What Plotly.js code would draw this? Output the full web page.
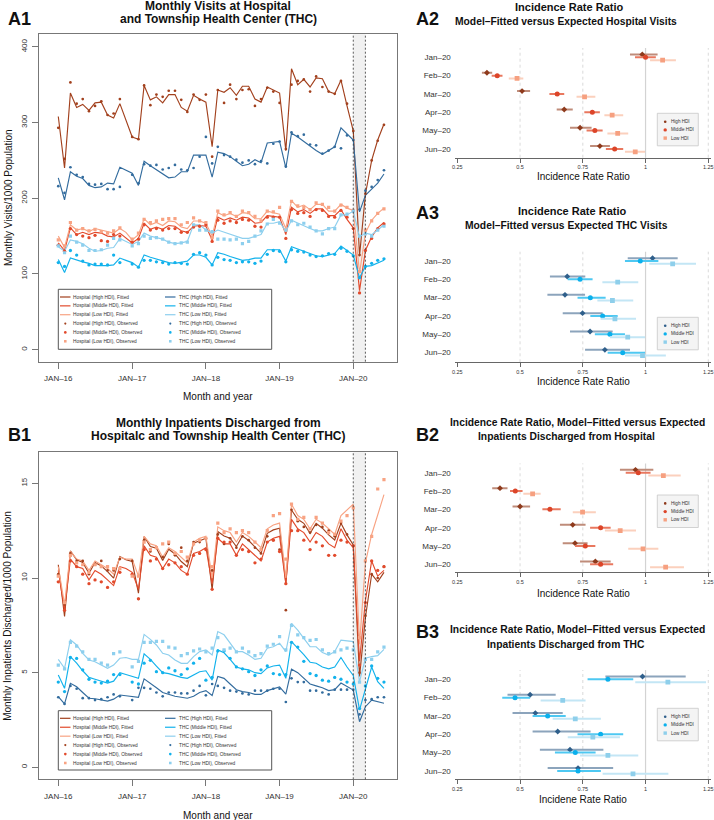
<!DOCTYPE html>
<html><head><meta charset="utf-8">
<script src="https://cdn.plot.ly/plotly-3.0.1.min.js"></script>
<style>html,body{margin:0;padding:0;background:#fff}#chart{width:714px;height:820px}</style>
</head><body><div id="chart"></div>
<script>
// ---------- categories ----------
const months = [];
for (let y = 2016; y <= 2020; y++) for (let m = 1; m <= 12; m++) if (y < 2020 || m <= 6) months.push(y + '-' + String(m).padStart(2, '0') + '-01');
const yearTickDates = ['2016-01-01','2017-01-01','2018-01-01','2019-01-01','2020-01-01'];
const yearTickLabels = ['JAN–16','JAN–17','JAN–18','JAN–19','JAN–20'];
const irrMonths = ['Jan–20','Feb–20','Mar–20','Apr–20','May–20','Jun–20'];

// ---------- A1: monthly visits per 1000 ----------
const hospHighFitA1 = [308,240,339,320,324,316,326,327,310,306,325,303,
 281,278,349,330,334,326,337,337,320,315,336,331,
 327,268,343,340,346,336,348,348,331,327,347,343,
 339,263,371,350,357,347,359,358,341,338,356,322,
 289,124,205,250,277,298];
const hospHighObsA1 = [293,252,353,325,331,315,322,328,310,312,331,null,
 281,278,349,323,337,334,342,342,330,314,337,330,
 337,255,343,326,350,331,343,344,322,331,346,341,
 326,265,350,355,357,341,361,347,341,338,355,325,
 289,125,206,250,276,297];
const hospMidFitA1 = [141,131,161,152,155,152,155,154,150,149,154,148,
 141,147,167,159,162,159,164,163,157,155,163,164,
 163,145,175,171,174,171,175,174,167,168,177,176,
 175,152,188,182,185,180,186,186,177,177,185,172,
 161,78,131,149,161,168];
const hospMidObsA1 = [138,130,160,152,150,148,151,144,143,152,150,null,
 142,146,165,158,160,158,160,160,155,155,162,163,
 165,143,171,167,170,168,172,171,163,162,175,175,
 175,147,185,180,181,176,185,184,176,175,184,175,
 160,75,131,147,160,166];
const hospLowFitA1 = [150,135,165,158,160,156,160,158,155,154,160,155,
 145,152,173,165,168,164,170,169,162,160,170,170,
 167,150,181,177,180,176,181,180,173,173,183,181,
 179,160,197,188,191,185,192,192,183,183,192,187,
 184,101,154,171,180,187];
const hospLowObsA1 = [145,137,168,158,160,157,159,156,154,157,161,null,
 146,154,172,168,170,172,173,173,165,168,174,170,
 168,148,183,178,181,176,183,181,176,170,183,182,
 188,158,196,190,188,185,194,192,188,183,191,188,
 184,103,158,170,180,186];
const thcHighFitA1 = [227,198,235,229,226,217,214,215,220,219,241,237,
 233,217,249,243,238,233,227,228,235,235,257,257,
 257,228,261,259,255,249,243,245,251,247,273,274,
 275,240,286,281,275,268,263,258,263,268,293,285,
 277,182,204,212,220,232];
const thcHighObsA1 = [216,207,241,231,228,219,218,219,212,212,215,null,
 231,220,245,243,244,238,240,244,238,237,240,255,
 281,246,268,257,255,251,247,250,245,249,246,272,
 275,242,287,282,284,271,270,259,263,268,266,283,
 277,185,210,215,224,237];
const thcMidFitA1 = [119,102,121,118,116,114,111,111,111,112,121,118,
 115,109,125,122,120,117,115,114,116,117,125,125,
 122,112,128,126,123,120,118,119,121,121,132,132,
 132,117,136,133,130,126,124,123,125,127,137,131,
 125,95,110,111,114,118];
const thcMidObsA1 = [115,110,131,125,117,112,113,113,112,125,115,null,
 113,109,118,118,116,115,113,115,114,113,126,128,
 125,112,122,119,118,115,116,116,114,117,126,131,
 130,116,132,130,129,125,123,124,127,126,134,130,
 124,95,110,114,118,120];
const thcLowFitA1 = [136,130,145,143,140,134,130,131,134,135,147,143,
 139,143,154,150,148,146,142,140,141,143,165,165,
 158,154,158,155,152,150,147,147,150,152,167,167,
 169,156,171,167,164,160,157,157,160,162,178,178,
 183,149,154,152,158,165];
const thcLowObsA1 = [137,128,150,142,138,131,131,132,138,147,145,null,
 137,140,150,147,148,146,142,140,141,142,165,158,
 158,156,146,146,145,146,140,143,150,157,166,172,
 167,158,170,165,167,162,157,153,160,160,178,179,
 183,150,153,150,158,163];

// ---------- B1: inpatients discharged per 1000 ----------
const hospHighFitB1 = [10.70,7.97,11.43,10.96,10.82,10.25,10.82,10.64,10.34,9.99,11.13,10.96,
 10.87,9.20,12.19,11.66,11.57,10.92,11.52,11.27,10.87,10.60,11.84,11.98,
 12.10,9.38,12.45,12.22,12.10,11.66,12.22,11.98,11.66,11.31,12.36,12.54,
 12.63,9.73,13.59,13.10,12.89,12.36,12.89,12.63,12.28,12.01,12.89,12.28,
 11.75,4.80,7.90,10.20,9.80,10.30];
const hospHighObsB1 = [10.20,8.60,11.30,10.90,10.90,10.20,10.70,10.90,10.40,10.40,11.00,null,
 10.90,8.90,12.00,11.40,11.60,11.10,11.80,11.20,11.60,10.90,11.90,11.90,
 12.10,10.40,12.30,11.80,12.10,11.60,12.20,12.00,11.60,11.30,12.20,12.00,
 11.50,8.30,13.60,13.00,12.70,12.40,12.80,12.70,12.50,12.20,12.90,12.30,
 11.70,5.00,8.00,10.20,10.00,10.60];
const hospMidFitB1 = [10.40,8.30,11.00,10.60,10.50,9.90,10.40,10.20,9.90,9.60,10.60,10.50,
 10.30,9.40,11.70,11.20,11.10,10.50,11.00,10.80,10.40,10.20,11.30,11.40,
 11.60,9.70,12.10,11.80,11.80,11.20,11.80,11.50,11.20,10.90,11.90,12.10,
 12.20,9.70,13.10,12.60,12.40,11.90,12.40,12.20,11.80,11.60,12.60,12.00,
 11.60,5.60,8.80,10.90,10.10,10.40];
const hospMidObsB1 = [9.80,8.30,10.90,10.60,10.20,9.70,9.90,9.80,9.50,9.80,10.30,null,
 10.20,8.90,11.50,10.90,11.00,10.50,10.70,10.80,10.60,10.20,11.20,11.30,
 11.50,9.40,12.10,11.90,11.90,11.20,11.50,11.40,10.80,11.00,11.90,12.00,
 11.40,9.70,12.50,12.50,12.00,11.50,11.90,11.70,11.20,11.20,12.00,11.90,
 11.70,5.40,8.70,10.90,10.40,10.60];
const hospLowFitB1 = [10.60,8.60,11.40,11.00,10.90,10.40,10.90,10.70,10.50,10.20,11.10,11.00,
 11.00,10.10,12.20,11.80,11.70,11.10,11.60,11.40,11.10,10.80,11.90,12.10,
 12.20,10.00,12.70,12.50,12.40,11.90,12.40,12.20,11.90,11.60,12.60,12.80,
 12.90,10.00,13.90,13.30,13.10,12.60,13.10,12.90,12.60,12.30,13.30,13.60,
 13.90,6.50,10.80,12.30,13.40,14.40];
const hospLowObsB1 = [10.10,8.70,11.20,10.80,10.70,10.30,10.70,10.60,10.60,10.50,10.50,null,
 10.10,10.10,11.90,11.50,11.60,11.80,11.90,11.30,11.40,11.10,11.80,12.00,
 12.10,10.60,12.90,12.40,12.60,12.40,12.50,12.40,11.90,11.50,12.50,13.30,
 13.40,11.00,13.90,13.10,13.20,12.60,13.20,12.90,12.40,12.30,13.00,13.30,
 13.70,6.85,10.90,12.20,14.70,15.20];
const thcHighFitB1 = [3.73,3.35,4.44,4.25,3.95,3.65,3.62,3.55,3.50,3.60,3.82,3.78,
 3.75,3.70,4.67,4.45,4.20,3.95,3.85,3.75,3.70,3.65,3.75,3.95,
 4.05,3.79,4.80,4.70,4.40,4.10,4.00,3.95,3.85,3.85,4.05,4.15,
 4.25,3.86,5.18,5.00,4.70,4.40,4.30,4.20,4.05,4.10,4.45,4.25,
 4.08,2.41,3.20,3.55,3.45,3.38];
const thcHighObsB1 = [3.70,3.35,4.30,4.15,3.65,3.65,3.55,3.60,3.70,3.85,3.75,null,
 3.55,4.20,4.20,4.15,3.95,3.75,3.95,3.95,3.90,3.90,4.05,4.30,
 3.80,4.40,4.30,4.20,4.05,4.00,3.90,3.85,4.05,4.05,4.05,4.15,
 4.15,3.45,4.70,4.50,4.50,4.05,4.05,3.95,3.85,4.10,4.10,4.10,
 4.10,2.80,3.55,3.60,3.70,3.70];
const thcMidFitB1 = [4.88,4.17,5.85,5.50,5.10,4.75,4.65,4.55,4.45,4.55,5.00,4.90,
 4.80,4.70,5.99,5.70,5.35,5.00,4.95,4.85,4.75,4.70,4.90,5.05,
 5.10,4.60,6.20,6.05,5.70,5.30,5.20,5.15,5.00,4.95,5.25,5.35,
 5.40,4.70,6.64,6.30,5.95,5.55,5.50,5.30,5.20,5.30,5.80,5.30,
 4.85,3.03,4.17,5.30,4.52,4.17];
const thcMidObsB1 = [4.50,4.00,5.80,5.75,5.15,4.65,4.50,4.45,4.55,4.90,4.90,null,
 4.50,4.40,5.50,5.65,5.05,5.00,5.25,5.10,4.90,5.20,5.50,5.75,
 4.60,4.75,6.15,6.15,5.75,5.30,5.20,5.05,4.85,5.15,5.35,4.95,
 4.90,4.90,6.60,6.35,5.60,4.95,4.85,4.60,4.55,4.75,4.65,4.50,
 4.40,3.10,4.30,5.35,4.70,4.50];
const thcLowFitB1 = [5.70,5.23,6.73,6.46,6.02,5.67,5.58,5.40,5.23,5.40,5.76,5.80,
 5.70,5.70,7.02,6.76,6.46,6.02,5.93,5.67,5.49,5.49,5.85,6.11,
 6.20,5.93,7.17,7.00,6.55,6.11,6.11,5.93,5.70,5.76,6.29,6.37,
 6.55,6.11,7.60,7.25,6.81,6.37,6.37,6.06,5.93,6.11,6.72,6.68,
 6.64,4.52,5.76,5.85,5.90,6.23];
const thcLowObsB1 = [5.40,5.20,6.60,6.40,6.10,5.70,5.70,5.50,5.40,6.00,6.10,null,
 5.30,5.60,6.60,6.60,6.65,6.65,6.35,6.30,5.90,6.00,6.15,6.25,
 6.10,6.30,6.85,6.20,6.30,6.10,6.30,6.10,5.90,6.00,6.40,6.50,
 6.90,6.20,7.50,7.00,6.85,6.70,6.75,6.20,6.00,6.10,6.20,6.30,
 6.20,4.50,5.70,5.70,6.10,6.35];

// ---------- Incidence rate ratios (estimate, lower, upper) ----------
const a2HighEst=[0.987,0.368,0.508,0.676,0.739,0.818], a2HighLo=[0.938,0.348,0.488,0.646,0.699,0.779], a2HighHi=[1.048,0.389,0.540,0.710,0.785,0.858];
const a2MidEst=[1.000,0.409,0.648,0.788,0.798,0.877],  a2MidLo=[0.958,0.387,0.617,0.756,0.765,0.842],  a2MidHi=[1.041,0.430,0.676,0.818,0.829,0.911];
const a2LowEst=[1.068,0.488,0.757,0.867,0.889,0.959],  a2LowLo=[1.018,0.455,0.725,0.836,0.848,0.918],  a2LowHi=[1.121,0.513,0.800,0.911,0.931,0.998];

const a3HighEst=[1.028,0.688,0.679,0.749,0.779,0.838], a3HighLo=[0.929,0.619,0.609,0.670,0.699,0.759], a3HighHi=[1.128,0.760,0.759,0.829,0.869,0.938];
const a3MidEst=[0.979,0.739,0.780,0.829,0.858,0.909],  a3MidLo=[0.918,0.690,0.729,0.780,0.798,0.849],  a3MidHi=[1.051,0.789,0.841,0.889,0.918,0.998];
const a3LowEst=[1.108,0.889,0.868,0.878,0.929,0.988],  a3LowLo=[1.015,0.828,0.808,0.821,0.858,0.918],  a3LowHi=[1.201,0.971,0.951,0.962,0.998,1.081];

const b2HighEst=[0.960,0.420,0.500,0.710,0.719,0.800], b2HighLo=[0.898,0.389,0.470,0.659,0.670,0.739], b2HighHi=[1.031,0.450,0.540,0.761,0.769,0.861];
const b2MidEst=[0.971,0.481,0.619,0.821,0.760,0.821],  b2MidLo=[0.921,0.460,0.589,0.779,0.719,0.779],  b2MidHi=[1.020,0.510,0.662,0.861,0.800,0.871];
const b2LowEst=[1.071,0.550,0.749,0.899,0.990,1.080],  b2LowLo=[1.011,0.513,0.710,0.838,0.931,1.018],  b2LowHi=[1.140,0.582,0.802,0.962,1.051,1.153];

const b3HighEst=[0.988,0.540,0.561,0.650,0.699,0.731], b3HighLo=[0.840,0.450,0.470,0.550,0.579,0.610], b3HighHi=[1.160,0.642,0.670,0.781,0.832,0.871];
const b3MidEst=[0.850,0.480,0.610,0.821,0.720,0.731],  b3MidLo=[0.769,0.429,0.550,0.729,0.639,0.648],  b3MidHi=[0.951,0.540,0.682,0.911,0.801,0.822];
const b3LowEst=[1.089,0.670,0.720,0.790,0.850,0.950],  b3LowLo=[0.959,0.582,0.630,0.690,0.739,0.829],  b3LowHi=[1.241,0.761,0.822,0.898,0.971,1.091];

const irrTicks = [0.25,0.5,0.75,1,1.25];
const irrTickText = ['0.25','0.5','0.75','1','1.25'];
const hdiNames = ['High HDI','Middle HDI','Low HDI'];

// ---------- styling / layout helpers ----------
const W = 714, H = 820;
const px = x => x / W, py = y => 1 - y / H;
const FONT = 'Liberation Sans, Arial, Helvetica, sans-serif';
const COL = {
  hospHigh:'#A2401D', hospMid:'#E24A2C', hospLow:'#F8A383',
  thcHigh:'#336C9E', thcMid:'#12B2EC', thcLow:'#8DCFEE'
};
const IRRCOL = {
  hosp: [{pt:'#8E3A1C', ci:'#BF8C7A'}, {pt:'#DC4529', ci:'#E9785F'}, {pt:'#F6A080', ci:'#FBD0BD'}],
  thc:  [{pt:'#2F5F8B', ci:'#8CA4BC'}, {pt:'#0BB0EC', ci:'#4EC8F2'}, {pt:'#8ECFEB', ci:'#C3E6F5'}]
};
const SYM = [{s:'diamond',z:4.5},{s:'circle',z:5},{s:'square',z:4.8}];

const traces = [], shapes = [], annotations = [];

function ann(text, x, y, size, opt) {
  return Object.assign({text, x:px(x), y:py(y), xref:'paper', yref:'paper', showarrow:false,
    xanchor:'center', yanchor:'middle', font:{family:FONT, size, color:'#111'}}, opt || {});
}

// ---------- time series panels ----------
function tsPanel(xa, ya, series) {
  series.forEach(s => traces.push({type:'scatter', mode:'lines', x:months, y:s.fit, xaxis:xa, yaxis:ya,
    line:{color:s.color, width:1.15}, connectgaps:true, hoverinfo:'skip', showlegend:false, name:s.name + ', Fitted'}));
  series.forEach(s => traces.push({type:'scatter', mode:'markers', x:months, y:s.obs, xaxis:xa, yaxis:ya,
    marker:{color:s.color, symbol:s.sym, size:s.size, line:{width:0}}, showlegend:false, name:s.name + ', Observed'}));
  const yd = ya + ' domain';
  shapes.push({type:'rect', xref:xa, yref:yd, x0:'2020-01-01', x1:'2020-03-01', y0:0, y1:1,
    fillcolor:'#F1F1F1', line:{width:0}, layer:'below'});
  ['2020-01-01','2020-03-01'].forEach(d => shapes.push({type:'line', xref:xa, yref:yd, x0:d, x1:d, y0:0, y1:1,
    line:{color:'#333', width:0.8, dash:'2px,2px'}}));
}

function bigLegend(series, yFirst, step, box) {
  shapes.push({type:'rect', xref:'paper', yref:'paper', x0:px(box[0]), x1:px(box[2]), y0:py(box[3]), y1:py(box[1]),
    line:{color:'#555', width:1}, fillcolor:'#FFFFFF'});
  const cols = [{l0:60, l1:70.5, m:65.3, t:71.2}, {l0:165, l1:175.5, m:170.3, t:177.2}];
  series.forEach((s, i) => {
    const c = cols[i < 3 ? 0 : 1], r = i % 3;
    const yf = yFirst + step * r, yo = yFirst + step * (r + 3);
    shapes.push({type:'line', xref:'paper', yref:'paper', x0:px(c.l0), x1:px(c.l1), y0:py(yf), y1:py(yf),
      line:{color:s.color, width:1.2}});
    const rr = s.size / 2 * 0.8;
    shapes.push({type: s.sym === 'square' ? 'rect' : 'circle', xref:'paper', yref:'paper',
      x0:px(c.m - rr), x1:px(c.m + rr), y0:py(yo + rr), y1:py(yo - rr), fillcolor:s.color, line:{width:0}});
    annotations.push(ann(s.name + ', Fitted', c.t, yf, 4.8, {xanchor:'left', font:{family:FONT, size:4.8, color:'#333'}}));
    annotations.push(ann(s.name + ', Observed', c.t, yo, 4.8, {xanchor:'left', font:{family:FONT, size:4.8, color:'#333'}}));
  });
}

function mkSeries(f) {
  return [
    {name:'Hospital (High HDI)', fit:f[0], obs:f[1], color:COL.hospHigh, sym:'circle', size:2.7},
    {name:'Hospital (Middle HDI)', fit:f[2], obs:f[3], color:COL.hospMid, sym:'circle', size:3.3},
    {name:'Hospital (Low HDI)', fit:f[4], obs:f[5], color:COL.hospLow, sym:'square', size:3.2},
    {name:'THC (High HDI)', fit:f[6], obs:f[7], color:COL.thcHigh, sym:'circle', size:2.7},
    {name:'THC (Middle HDI)', fit:f[8], obs:f[9], color:COL.thcMid, sym:'circle', size:3.3},
    {name:'THC (Low HDI)', fit:f[10], obs:f[11], color:COL.thcLow, sym:'square', size:3.2}
  ];
}
const seriesA1 = mkSeries([hospHighFitA1,hospHighObsA1,hospMidFitA1,hospMidObsA1,hospLowFitA1,hospLowObsA1,
  thcHighFitA1,thcHighObsA1,thcMidFitA1,thcMidObsA1,thcLowFitA1,thcLowObsA1]);
const seriesB1 = mkSeries([hospHighFitB1,hospHighObsB1,hospMidFitB1,hospMidObsB1,hospLowFitB1,hospLowObsB1,
  thcHighFitB1,thcHighObsB1,thcMidFitB1,thcMidObsB1,thcLowFitB1,thcLowObsB1]);

tsPanel('x', 'y', seriesA1);
tsPanel('x4', 'y4', seriesB1);
bigLegend(seriesA1, 297, 8.86, [58.3, 289.3, 271.7, 349.3]);
bigLegend(seriesB1, 718.3, 8.94, [58.3, 710.7, 271.7, 770]);

// ---------- IRR panels ----------
const DODGE = [-0.155, 0, 0.155];
function irrPanel(n, groups, pal, legendTop) {
  const xa = 'x' + n, ya = 'y' + n;
  groups.forEach((g, k) => {
    traces.push({type:'scatter', mode:'markers', xaxis:xa, yaxis:ya,
      x:g.est, y:g.est.map((_, i) => i + 1 + DODGE[k]),
      error_x:{type:'data', symmetric:false, array:g.est.map((v, i) => g.hi[i] - v),
        arrayminus:g.est.map((v, i) => v - g.lo[i]), color:pal[k].ci, thickness:2, width:0},
      marker:{color:pal[k].pt, symbol:SYM[k].s, size:SYM[k].z, line:{width:0}},
      name:hdiNames[k], showlegend:false});
  });
  const yd = ya + ' domain';
  [0.5, 0.75, 1.25].forEach(v => shapes.push({type:'line', xref:xa, yref:yd, x0:v, x1:v, y0:0, y1:1,
    line:{color:'#D0D0D0', width:0.8, dash:'3px,3px'}, layer:'below'}));
  shapes.push({type:'line', xref:xa, yref:yd, x0:1, x1:1, y0:0, y1:1, line:{color:'#D3D3D3', width:1.2}, layer:'below'});
  const lx0 = 657.3, lx1 = 698.3, step = 8.2;
  shapes.push({type:'rect', xref:'paper', yref:'paper', x0:px(lx0), x1:px(lx1), y0:py(legendTop + 32.5), y1:py(legendTop),
    fillcolor:'#F4F4F4', line:{color:'#C8C8C8', width:0.8}});
  hdiNames.forEach((nm, k) => {
    const yy = legendTop + 8.4 + step * k, mx = 665.2, r = k === 0 ? 1.3 : 1.7;
    shapes.push({type: k === 2 ? 'rect' : 'circle', xref:'paper', yref:'paper',
      x0:px(mx - r), x1:px(mx + r), y0:py(yy + r), y1:py(yy - r), fillcolor:pal[k].pt, line:{width:0}});
    annotations.push(ann(nm, 669, yy, 4.6, {xanchor:'left', font:{family:FONT, size:4.6, color:'#333'}}));
  });
}
irrPanel(2, [{est:a2HighEst,lo:a2HighLo,hi:a2HighHi},{est:a2MidEst,lo:a2MidLo,hi:a2MidHi},{est:a2LowEst,lo:a2LowLo,hi:a2LowHi}], IRRCOL.hosp, 113.3);
irrPanel(3, [{est:a3HighEst,lo:a3HighLo,hi:a3HighHi},{est:a3MidEst,lo:a3MidLo,hi:a3MidHi},{est:a3LowEst,lo:a3LowLo,hi:a3LowHi}], IRRCOL.thc, 317.3);
irrPanel(5, [{est:b2HighEst,lo:b2HighLo,hi:b2HighHi},{est:b2MidEst,lo:b2MidLo,hi:b2MidHi},{est:b2LowEst,lo:b2LowLo,hi:b2LowHi}], IRRCOL.hosp, 495);
irrPanel(6, [{est:b3HighEst,lo:b3HighLo,hi:b3HighHi},{est:b3MidEst,lo:b3MidLo,hi:b3MidHi},{est:b3LowEst,lo:b3LowLo,hi:b3LowHi}], IRRCOL.thc, 708.3);

// ---------- axes ----------
const tickFont = {family:FONT, size:8, color:'#333'};
function tsX(anchor) {
  return {domain:[px(38.7), px(397.3)], type:'date', range:['2015-09-26','2020-08-06'], anchor,
    tickmode:'array', tickvals:yearTickDates, ticktext:yearTickLabels, ticks:'outside', ticklen:6, tickcolor:'#777',
    showline:true, mirror:true, linecolor:'#777', linewidth:1, showgrid:false, zeroline:false,
    tickfont:tickFont, ticklabelstandoff:3, fixedrange:true};
}
function tsY(top, bottom, range, vals, anchor) {
  return {domain:[py(bottom), py(top)], range, anchor, tickmode:'array', tickvals:vals, ticktext:vals.map(String),
    tickangle:-90, ticks:'outside', ticklen:5.5, tickcolor:'#777', showline:true, mirror:true, linecolor:'#777',
    linewidth:1, showgrid:false, zeroline:false, tickfont:tickFont, ticklabelstandoff:2, fixedrange:true};
}
function irrX(anchor) {
  return {domain:[px(454.8), px(710.8)], range:[0.24, 1.26], anchor, tickmode:'array', tickvals:irrTicks,
    ticktext:irrTickText, ticks:'outside', ticklen:4, tickcolor:'#666', showline:true, linecolor:'#666',
    linewidth:1, showgrid:false, zeroline:false, tickfont:{family:FONT, size:5.5, color:'#333'}, fixedrange:true};
}
function irrY(yJ, yA, anchor) {
  const s = 18.33, top = yJ - 9.3;
  return {domain:[py(yA), py(top)], range:[1 + (yA - yJ) / s, 1 - (yJ - top) / s], anchor, tickmode:'array',
    tickvals:[1,2,3,4,5,6], ticktext:irrMonths, ticks:'', showline:false, showgrid:false, zeroline:false,
    tickfont:{family:FONT, size:8, color:'#333'}, ticklabelstandoff:3, fixedrange:true};
}

// ---------- text ----------
const bold = t => '<b>' + t + '</b>';
annotations.push(
  ann(bold('A1'), 6, 19, 18, {xanchor:'left'}),
  ann(bold('A2'), 414, 19, 18, {xanchor:'left'}),
  ann(bold('A3'), 414, 213, 18, {xanchor:'left'}),
  ann(bold('B1'), 6, 435, 18, {xanchor:'left'}),
  ann(bold('B2'), 414, 435, 18, {xanchor:'left'}),
  ann(bold('B3'), 414, 632, 18, {xanchor:'left'}),
  ann(bold('Monthly Visits at Hospital'), 218, 5.5, 12),
  ann(bold('and Township Health Center (THC)'), 218, 18.8, 12),
  ann(bold('Monthly Inpatients Discharged from'), 218, 422.5, 12),
  ann(bold('Hospitalc and Township Health Center (THC)'), 218, 436.3, 12),
  ann('Month and year', 218, 396.7, 10),
  ann('Month and year', 218, 815, 10),
  ann('Monthly Visits/1000 Population', 8, 198, 10, {textangle:-90}),
  ann('Monthly Inpatients Discharged/1000 Population', 8, 615.8, 10, {textangle:-90}),
  ann(bold('Incidence Rate Ratio'), 569, 7, 11),
  ann(bold('Model–Fitted versus Expected Hospital Visits'), 566, 21.7, 10.3),
  ann(bold('Incidence Rate Ratio'), 572, 211, 11),
  ann(bold('Model–Fitted versus Expected THC Visits'), 566, 225.7, 10.3),
  ann(bold('Incidence Rate Ratio, Model–Fitted versus Expected'), 577, 422.3, 10.3),
  ann(bold('Inpatients Discharged from Hospital'), 566, 436.7, 10.3),
  ann(bold('Incidence Rate Ratio, Model–Fitted versus Expected'), 577, 629, 10.3),
  ann(bold('Inpatients Discharged from THC'), 566, 644, 10.3),
  ann('Incidence Rate Ratio', 583, 176.7, 10),
  ann('Incidence Rate Ratio', 583, 381.7, 10),
  ann('Incidence Rate Ratio', 583, 593.3, 10),
  ann('Incidene Rate Ratio', 583, 799.3, 10)
);

const layout = {
  width:W, height:H, margin:{l:0, r:0, t:0, b:0}, paper_bgcolor:'#FFFFFF', plot_bgcolor:'rgba(0,0,0,0)',
  font:{family:FONT, color:'#222'}, showlegend:false, hovermode:false,
  xaxis: tsX('y'),
  yaxis: tsY(34.3, 361.7, [-15.9, 416.6], [0,100,200,300,400], 'x'),
  xaxis4: tsX('y4'),
  yaxis4: tsY(452.3, 779.3, [-0.634, 16.64], [0,5,10,15], 'x4'),
  xaxis2: irrX('y2'), yaxis2: irrY(57.3, 157.7, 'x2'),
  xaxis3: irrX('y3'), yaxis3: irrY(261, 362.3, 'x3'),
  xaxis5: irrX('y5'), yaxis5: irrY(472.7, 572.3, 'x5'),
  xaxis6: irrX('y6'), yaxis6: irrY(679.3, 779, 'x6'),
  shapes, annotations
};
Plotly.newPlot('chart', traces, layout, {displayModeBar:false, staticPlot:true});
</script></body></html>
